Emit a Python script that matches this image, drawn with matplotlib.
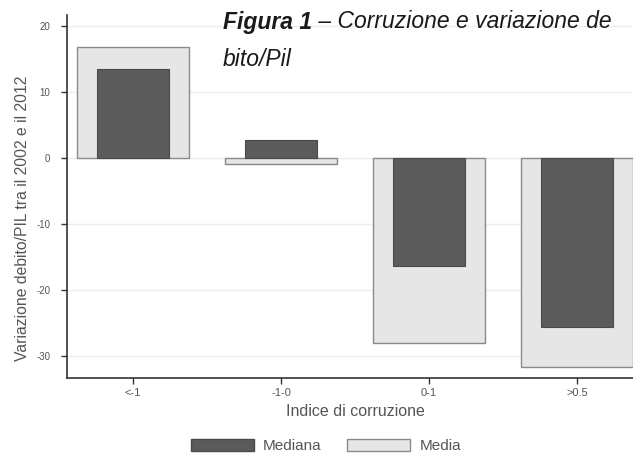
import matplotlib
matplotlib.use("Agg")
import matplotlib.pyplot as plt
import numpy as np
from matplotlib.patches import Patch

plt.rcParams['font.family'] = ['Liberation Sans', 'DejaVu Sans']

# Data
categorie = ["<-1", "-1-0", "0-1", ">0.5"]
mediana = [13.5, 2.7, -16.4, -25.6]
media = [16.8, -0.8, -28.0, -31.6]
yticks = [-30, -20, -10, 0, 10, 20]

# Figure
W, H = 633, 455
fig = plt.figure(figsize=(W/100, H/100), dpi=100)
left, right, top, bottom = 67, 643, 15, 378
ax = fig.add_axes([left/W, 1-bottom/H, (right-left)/W, (bottom-top)/H])

x = np.arange(len(categorie))
ax.bar(x, media, width=0.76, color="#e6e6e6", edgecolor="#8a8a8a", linewidth=1.0, zorder=2, label="Media")
ax.bar(x, mediana, width=0.49, color="#5b5b5b", edgecolor="#4a4a4a", linewidth=0.8, zorder=3, label="Mediana")

ax.set_xlim(-0.446, len(categorie)-1+0.446)
ax.set_ylim(-33.3, 21.7)
ax.set_yticks(yticks)
ax.set_xticks(x)
ax.set_xticklabels(categorie, fontsize=8, color="#555555")
ax.set_yticklabels([str(v) for v in yticks], fontsize=7, color="#555555")
ax.grid(axis="y", color="#eeeeee", linewidth=1.0, zorder=0)
ax.set_axisbelow(True)

for s in ["top", "right"]:
    ax.spines[s].set_visible(False)
for s in ["left", "bottom"]:
    ax.spines[s].set_color("#333333")
    ax.spines[s].set_linewidth(1.2)
ax.tick_params(axis="y", length=4, width=1.0, color="#333333", pad=8)
ax.tick_params(axis="x", length=4, width=1.0, color="#333333", pad=3)

fig.text(355/W, 1-411/H, "Indice di corruzione", fontsize=11.5, color="#555555",
         ha="center", va="center")
fig.text(23/W, 1-218/H, "Variazione debito/PIL tra il 2002 e il 2012", rotation=90,
         ha="center", va="center", fontsize=11.3, color="#555555")

# Titolo, spezzato su due righe come nell'originale
t1 = fig.text(223/W, 1-22/H, "Figura 1", fontsize=16.5, fontweight="bold", fontstyle="italic",
              ha="left", va="center", color="#1a1a1a")
fig.canvas.draw()
bb = t1.get_window_extent()
fig.text(bb.x1/W, 1-22/H, " – Corruzione e variazione de", fontsize=16.5, fontstyle="italic",
         ha="left", va="center", color="#1a1a1a")
fig.text(223/W, 1-60/H, "bito/Pil", fontsize=16.5, fontstyle="italic",
         ha="left", va="center", color="#1a1a1a")

handles = [Patch(facecolor="#5b5b5b", edgecolor="#4a4a4a"),
           Patch(facecolor="#e6e6e6", edgecolor="#8a8a8a")]
fig.legend(handles, ["Mediana", "Media"], loc="center", bbox_to_anchor=(326/W, 1-446/H),
           ncol=2, frameon=False, fontsize=11, handlelength=4.1, handleheight=0.85,
           columnspacing=1.7, handletextpad=0.6, labelcolor="#555555",
           borderpad=0, borderaxespad=0)

fig.savefig("out.png", dpi=100)
